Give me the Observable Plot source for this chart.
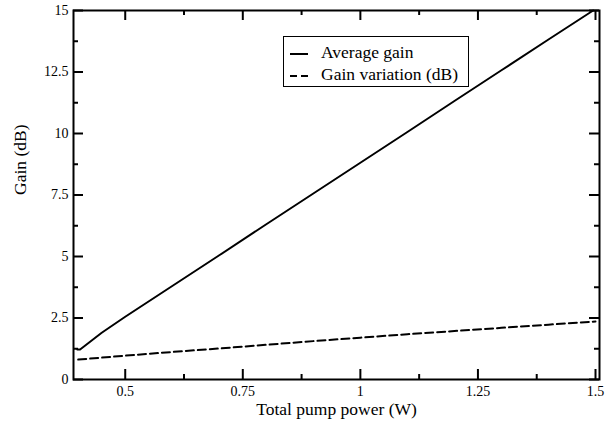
<!DOCTYPE html>
<html><head><meta charset="utf-8">
<script src="https://cdn.jsdelivr.net/npm/d3@7"></script>
<script src="https://cdn.jsdelivr.net/npm/@observablehq/plot@0.6"></script>
<style>
body{margin:0;background:#fff;}
#wrap{position:relative;width:608px;height:429px;font-family:"Liberation Serif","Times New Roman",serif;}
#legend{position:absolute;left:283px;top:36px;width:186px;height:51px;border:1.5px solid #000;box-sizing:border-box;background:#fff;font-size:17.5px;color:#000;}
#legend .row{position:absolute;left:6px;height:20px;line-height:20px;white-space:nowrap;}
#legend svg{vertical-align:middle;margin-right:13px;}
</style></head><body><div id="wrap"></div><script>
// Data
const avgPower = [0.398, 0.404, 0.45, 0.5, 0.6, 0.7, 0.8, 0.9, 1.0, 1.1, 1.2, 1.3, 1.4, 1.495];
const avgGain  = [1.22, 1.22, 1.90, 2.55, 3.80, 5.05, 6.31, 7.56, 8.81, 10.06, 11.32, 12.57, 13.82, 15.0];
const varPower = [0.40, 0.5, 0.6, 0.7, 0.8, 0.9, 1.0, 1.1, 1.2, 1.3, 1.4, 1.5];
const gainVar  = [0.81, 0.97, 1.12, 1.26, 1.41, 1.56, 1.70, 1.84, 1.97, 2.10, 2.23, 2.36];
const xMajor = [0.5, 0.75, 1, 1.25, 1.5];
const xMinor = [0.625, 0.875, 1.125, 1.375];
const yMajor = [0, 2.5, 5, 7.5, 10, 12.5, 15];
const yMinor = [1.25, 3.75, 6.25, 8.75, 11.25, 13.75];
const seriesNames = ["Average gain", "Gain variation (dB)"];
const xTitle = "Total pump power (W)";
const yTitle = "Gain (dB)";

const avgData = avgPower.map((p, i) => ({p, g: avgGain[i]}));
const varData = varPower.map((p, i) => ({p, g: gainVar[i]}));

const W = 608, H = 429, mL = 73, mR = 9, mT = 10, mB = 50;
const iw = W - mL - mR, ih = H - mT - mB;

const chart = Plot.plot({
  width: W, height: H,
  marginLeft: mL, marginRight: mR, marginTop: mT, marginBottom: mB,
  style: {fontFamily: "Liberation Serif, Times New Roman, serif", background: "#fff", color: "#000"},
  x: {domain: [0.39, 1.5085]},
  y: {domain: [0, 15]},
  marks: [
    Plot.axisX({anchor: "bottom", ticks: xMajor, tickSize: 0, tickPadding: 7, tickFormat: d => String(d), fontSize: 14, label: null}),
    Plot.axisY({anchor: "left", ticks: yMajor, tickSize: 0, tickPadding: 5, tickFormat: d => String(d), fontSize: 14, label: null}),
    // inward ticks on all four sides
    Plot.tickX(xMajor, {x: d => d, insetTop: ih - 10, strokeWidth: 2}),
    Plot.tickX(xMinor, {x: d => d, insetTop: ih - 5, strokeWidth: 2}),
    Plot.tickX(xMajor, {x: d => d, insetBottom: ih - 10, strokeWidth: 2}),
    Plot.tickX(xMinor, {x: d => d, insetBottom: ih - 5, strokeWidth: 2}),
    Plot.tickY(yMajor, {y: d => d, insetRight: iw - 10, strokeWidth: 2}),
    Plot.tickY(yMinor, {y: d => d, insetRight: iw - 5, strokeWidth: 2}),
    Plot.tickY(yMajor, {y: d => d, insetLeft: iw - 10, strokeWidth: 2}),
    Plot.tickY(yMinor, {y: d => d, insetLeft: iw - 5, strokeWidth: 2}),
    Plot.line(avgData, {x: "p", y: "g", stroke: "#000", strokeWidth: 2}),
    Plot.line(varData, {x: "p", y: "g", stroke: "#000", strokeWidth: 2, strokeDasharray: "8,4"}),
    Plot.frame({stroke: "#000", strokeWidth: 2}),
    Plot.text([xTitle], {text: d => d, frameAnchor: "bottom", dy: 35, fontSize: 17.5}),
    Plot.text([yTitle], {text: d => d, frameAnchor: "left", dx: -53.5, rotate: -90, fontSize: 17.5})
  ]
});

const wrap = document.getElementById("wrap");
wrap.appendChild(chart);

const legend = document.createElement("div");
legend.id = "legend";
const dashes = [null, "7,4"];
seriesNames.forEach((name, i) => {
  const row = document.createElement("div");
  row.className = "row";
  row.style.top = (5 + i * 22) + "px";
  const dash = dashes[i] ? ` stroke-dasharray="${dashes[i]}"` : "";
  row.innerHTML = `<svg width="18" height="4"><line x1="0" y1="2" x2="18" y2="2" stroke="#000" stroke-width="2"${dash}/></svg>${name}`;
  legend.appendChild(row);
});
wrap.appendChild(legend);
</script></body></html>
